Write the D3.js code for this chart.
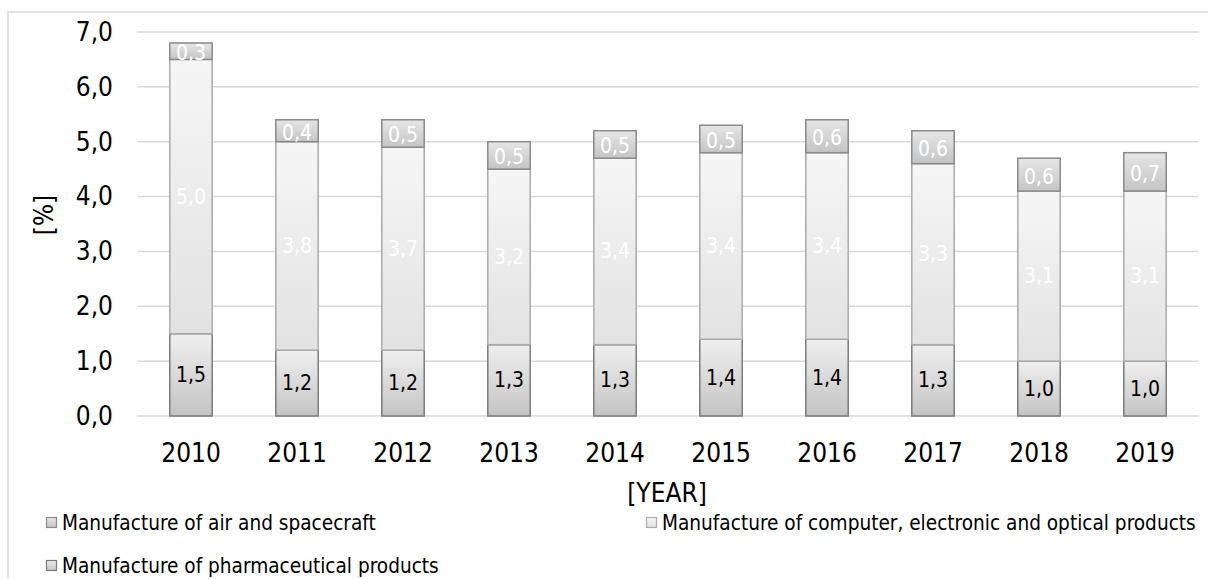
<!DOCTYPE html>
<html>
<head>
<meta charset="utf-8">
<script src="https://cdn.jsdelivr.net/npm/d3@7"></script>
<style>
  html, body { margin: 0; padding: 0; background: #fff; }
  svg { display: block; }
  text { font-family: 'DejaVu Sans Condensed', 'DejaVu Sans', sans-serif; }
</style>
</head>
<body>
<svg id="chart" width="1208" height="579"></svg>
<script>
// ---- data ----
const years = ["2010","2011","2012","2013","2014","2015","2016","2017","2018","2019"];
const pharma   = [1.5, 1.2, 1.2, 1.3, 1.3, 1.4, 1.4, 1.3, 1.0, 1.0];
const computer = [5.0, 3.8, 3.7, 3.2, 3.4, 3.4, 3.4, 3.3, 3.1, 3.1];
const aircraft = [0.3, 0.4, 0.5, 0.5, 0.5, 0.5, 0.6, 0.6, 0.6, 0.7];
const yTicks = [0, 1, 2, 3, 4, 5, 6, 7];
const seriesNames = [
  "Manufacture of air and spacecraft",
  "Manufacture of computer, electronic and optical products",
  "Manufacture of pharmaceutical products"
];
const xTitle = "[YEAR]";
const yTitle = "[%]";

// ---- layout ----
const svg = d3.select("#chart");
const plot = { left: 138, right: 1198, top: 32, bottom: 416 };
const FF = "'DejaVu Sans Condensed', 'DejaVu Sans', sans-serif";

const x = d3.scaleBand().domain(years).range([plot.left, plot.right]).paddingInner(0.6).paddingOuter(0.3);
const y = d3.scaleLinear().domain([0, 7]).range([plot.bottom, plot.top]);
const fmt = v => d3.format(".1f")(v).replace(".", ",");

// frame
svg.append("rect").attr("x", 8).attr("y", 12).attr("width", 1230).attr("height", 620)
  .attr("fill", "#fff").attr("stroke", "#d9d9d9").attr("stroke-width", 1.5);

// gradients
const defs = svg.append("defs");
function grad(id, c1, c2) {
  const g = defs.append("linearGradient").attr("id", id).attr("x1", 0).attr("y1", 0).attr("x2", 0).attr("y2", 1);
  g.append("stop").attr("offset", "0%").attr("stop-color", c1);
  g.append("stop").attr("offset", "100%").attr("stop-color", c2);
}
grad("gPh", "#efefef", "#c4c4c4");
grad("gCo", "#f6f6f6", "#e2e2e2");
grad("gAi", "#e6e6e6", "#c4c4c4");

// gridlines
svg.append("g").selectAll("line").data(yTicks).join("line")
  .attr("x1", plot.left).attr("x2", plot.right)
  .attr("y1", d => y(d)).attr("y2", d => y(d))
  .attr("stroke", "#d9d9d9").attr("stroke-width", 1.5);

// y axis labels
const yAxis = d3.axisLeft(y).tickValues(yTicks).tickFormat(fmt).tickSize(0).tickPadding(0);
const yg = svg.append("g").attr("transform", `translate(${113},0)`).call(yAxis);
yg.select(".domain").remove();
yg.selectAll("text").attr("font-size", 26).attr("fill", "#000").style("font-family", FF);

// x axis labels
const xAxis = d3.axisBottom(x).tickSize(0).tickPadding(0);
const xg = svg.append("g").attr("transform", `translate(0,${442})`).call(xAxis);
xg.select(".domain").remove();
xg.selectAll("text").attr("font-size", 26).attr("fill", "#000").attr("dy", "0.76em").style("font-family", FF);

// stacked data
const rows = years.map((yr, i) => ({ year: yr, pharma: pharma[i], computer: computer[i], aircraft: aircraft[i] }));
const keys = ["pharma", "computer", "aircraft"];
const stack = d3.stack().keys(keys)(rows);
const fills = { pharma: "url(#gPh)", computer: "url(#gCo)", aircraft: "url(#gAi)" };
const strokes = { pharma: "#7a7a7a", computer: "#ababab", aircraft: "#8a8a8a" };
const labelColors = { pharma: "#000", computer: "#fff", aircraft: "#fff" };

const bw = x.bandwidth();
stack.forEach(layer => {
  const k = layer.key;
  svg.append("g").selectAll("rect").data(layer).join("rect")
    .attr("x", d => x(d.data.year))
    .attr("y", d => y(d[1]))
    .attr("width", bw)
    .attr("height", d => y(d[0]) - y(d[1]))
    .attr("fill", fills[k]).attr("stroke", strokes[k]).attr("stroke-width", 1.5);
});
stack.forEach(layer => {
  const k = layer.key;
  svg.append("g").selectAll("text").data(layer).join("text")
    .attr("x", d => x(d.data.year) + bw / 2)
    .attr("y", d => (y(d[0]) + y(d[1])) / 2 + (k === "aircraft" ? 2 : 0))
    .attr("text-anchor", "middle").attr("dominant-baseline", "central")
    .attr("font-size", 21).attr("fill", labelColors[k])
    .text(d => fmt(d.data[k]));
});

// axis titles
svg.append("text").attr("x", 667).attr("y", 493).attr("text-anchor", "middle")
  .attr("dominant-baseline", "central").attr("font-size", 26).text(xTitle);
svg.append("text").attr("transform", `translate(44,215) rotate(-90)`).attr("text-anchor", "middle")
  .attr("dominant-baseline", "central").attr("font-size", 26).text(yTitle);

// legend
const legendItems = [
  { name: seriesNames[0], fill: "url(#gAi)", stroke: "#8a8a8a", lx: 46, ly: 523 },
  { name: seriesNames[1], fill: "url(#gCo)", stroke: "#ababab", lx: 646, ly: 523 },
  { name: seriesNames[2], fill: "url(#gPh)", stroke: "#7a7a7a", lx: 46, ly: 566 }
];
const lg = svg.append("g").selectAll("g").data(legendItems).join("g")
  .attr("transform", d => `translate(${d.lx},${d.ly})`);
lg.append("rect").attr("x", 0.5).attr("y", -5.5).attr("width", 10).attr("height", 10)
  .attr("fill", d => d.fill).attr("stroke", d => d.stroke).attr("stroke-width", 1.2);
lg.append("text").attr("x", 16).attr("y", 0).attr("dominant-baseline", "central")
  .attr("font-size", 20.6).attr("fill", "#000").text(d => d.name);
</script>
</body>
</html>
